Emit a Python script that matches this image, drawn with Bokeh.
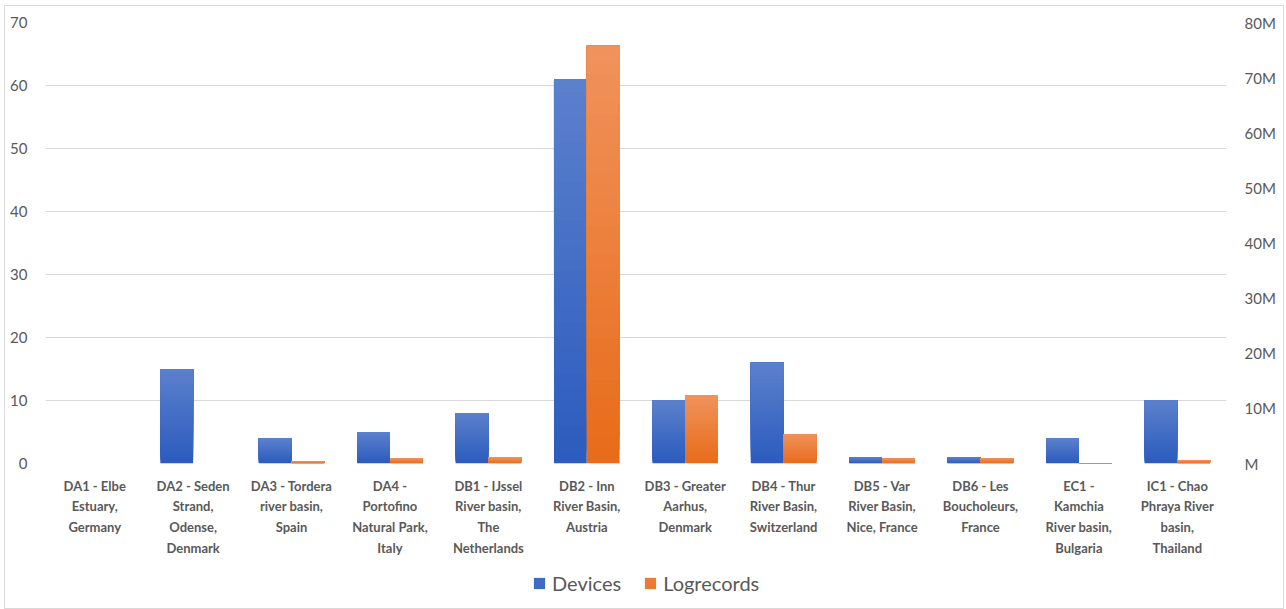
from bokeh.plotting import figure
from bokeh.layouts import column
from bokeh.models import (FactorRange, Range1d, LinearAxis, FixedTicker, Legend, LegendItem)
from bokeh.transform import dodge
from bokeh.embed import file_html
from bokeh.resources import INLINE

# ---- data ----
categories = [
    "DA1 - Elbe\nEstuary,\nGermany",
    "DA2 - Seden\nStrand,\nOdense,\nDenmark",
    "DA3 - Tordera\nriver basin,\nSpain",
    "DA4 -\nPortofino\nNatural Park,\nItaly",
    "DB1 - IJssel\nRiver basin,\nThe\nNetherlands",
    "DB2 - Inn\nRiver Basin,\nAustria",
    "DB3 - Greater\nAarhus,\nDenmark",
    "DB4 - Thur\nRiver Basin,\nSwitzerland",
    "DB5 - Var\nRiver Basin,\nNice, France",
    "DB6 - Les\nBoucholeurs,\nFrance",
    "EC1 -\nKamchia\nRiver basin,\nBulgaria",
    "IC1 - Chao\nPhraya River\nbasin,\nThailand",
]
devices = [0, 15, 4, 5, 8, 61, 10, 16, 1, 1, 4, 10]
logrecords = [0, 0.02e6, 0.42e6, 0.96e6, 1.14e6, 75.8e6, 12.4e6, 5.3e6, 0.96e6, 0.96e6, 0.08e6, 0.6e6]

left_ticks = [0, 10, 20, 30, 40, 50, 60, 70]
right_ticks = [0, 10e6, 20e6, 30e6, 40e6, 50e6, 60e6, 70e6, 80e6]
right_labels = ["M", "10M", "20M", "30M", "40M", "50M", "60M", "70M", "80M"]
series_names = ["Devices", "Logrecords"]

FONT = "Lato"
TXT = "#595959"
GRID = "#d9d9d9"

p = figure(width=1278, height=560, x_range=FactorRange(*categories, range_padding=0),
           y_range=Range1d(0, 70), output_backend="svg", toolbar_location=None,
           min_border_left=40, min_border_right=57, min_border_top=16, min_border_bottom=103)
p.extra_y_ranges = {"right": Range1d(0, 80e6)}
p.outline_line_color = None
p.background_fill_color = "white"
p.border_fill_color = "white"

def mix(c1, c2, t):
    a = [int(c1[i:i + 2], 16) for i in (1, 3, 5)]
    b = [int(c2[i:i + 2], 16) for i in (1, 3, 5)]
    return "#%02x%02x%02x" % tuple(round(a[j] + (b[j] - a[j]) * t) for j in range(3))

N = 30
BW = 0.333
series = [
    (series_names[0], devices, -0.1667, "#2c5cbe", "#5b80cc", "default"),
    (series_names[1], logrecords, 0.1667, "#e86c1a", "#f0925c", "right"),
]
for name, vals, off, c_bot, c_top, yr in series:
    for k in range(N):
        bottoms = [v * k / N for v in vals]
        col = mix(c_bot, c_top, k / (N - 1))
        p.vbar(x=dodge("cat", off, range=p.x_range), top="top", bottom="bottom", width=BW,
               source=dict(cat=categories, top=vals, bottom=bottoms),
               fill_color=col, line_color=None, y_range_name=yr)

# grid
p.xgrid.grid_line_color = None
p.ygrid.grid_line_color = GRID
p.ygrid.grid_line_width = 1
p.ygrid.ticker = FixedTicker(ticks=left_ticks)

# left axis
ya = p.yaxis[0]
ya.ticker = FixedTicker(ticks=left_ticks)
ya.axis_line_color = None
ya.major_tick_line_color = None
ya.minor_tick_line_color = None
ya.major_label_standoff = 12
ya.major_label_text_font = FONT
ya.major_label_text_font_size = "15px"
ya.major_label_text_color = TXT

# right axis
ra = LinearAxis(y_range_name="right", ticker=FixedTicker(ticks=right_ticks))
ra.major_label_overrides = {t: l for t, l in zip(right_ticks, right_labels)}
ra.axis_line_color = None
ra.major_tick_line_color = None
ra.minor_tick_line_color = None
ra.major_label_standoff = 12
ra.major_label_text_font = FONT
ra.major_label_text_font_size = "15px"
ra.major_label_text_color = TXT
p.add_layout(ra, "right")

# bottom axis
xa = p.xaxis[0]
xa.axis_line_color = None
xa.major_tick_line_color = None
xa.minor_tick_line_color = None
xa.major_tick_out = 0
xa.major_label_standoff = 14
xa.major_label_text_font = FONT
xa.major_label_text_font_style = "bold"
xa.major_label_text_font_size = "13px"
xa.major_label_text_color = TXT
xa.major_label_text_line_height = 1.3

# legend strip below the chart
lg = figure(width=1278, height=42, x_range=Range1d(0, 1), y_range=Range1d(0, 1),
            output_backend="svg", toolbar_location=None, min_border=0,
            x_axis_type=None, y_axis_type=None)
lg.outline_line_color = None
lg.grid.grid_line_color = None
lg.border_fill_color = "white"
items = []
for name, vals, off, c_bot, c_top, yr in series:
    col = mix(c_bot, c_top, 0.4)
    # placeholder glyph outside the visible range, only used for the legend swatch
    r = lg.vbar(x=[10], top=[10], bottom=[9], width=0.1, fill_color=col, line_color=None)
    items.append(LegendItem(label=name, renderers=[r]))
legend = Legend(items=items, orientation="horizontal", location=(487, 13),
                glyph_width=14, glyph_height=14, label_text_font=FONT,
                label_text_font_size="20px", label_text_color=TXT, spacing=22,
                padding=5, margin=0, border_line_color=None, background_fill_alpha=0,
                label_standoff=6)
lg.add_layout(legend, "center")

layout = column(p, lg, spacing=0)
layout.styles = {"border": "1px solid #d9d9d9", "margin-left": "4px", "margin-top": "5px",
                 "background-color": "white"}
open("out.html", "w").write(file_html(layout, INLINE))
